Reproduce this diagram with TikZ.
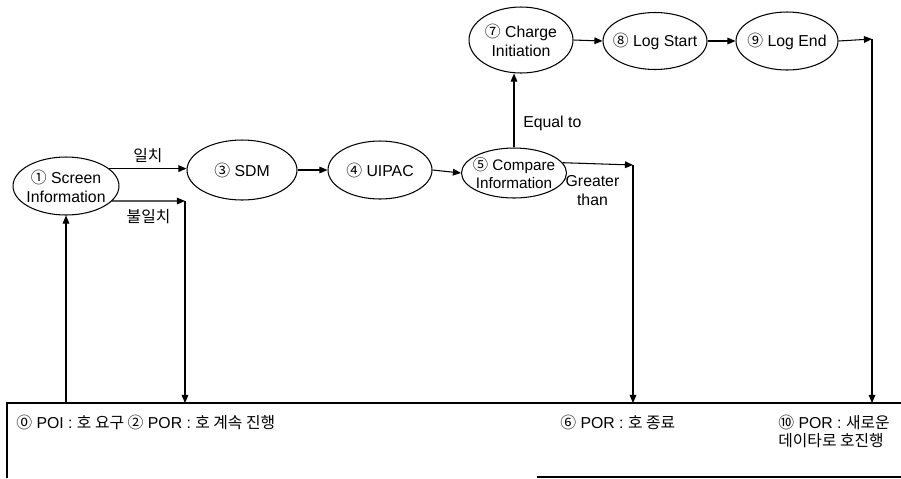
\documentclass[tikz,border=0pt]{standalone}
\usepackage{fontspec}
\setmainfont{Liberation Sans}
\newfontfamily\kr{Noto Sans CJK KR}
\usetikzlibrary{positioning, arrows.meta, shapes.geometric}
\tikzset{
  oval/.style = {ellipse, draw=black, line width=0.6pt, inner xsep=-10pt, inner ysep=-4pt,
                 align=center, font=\fontsize{9}{10.8}\selectfont},
  boks/.style = {draw=black, line width=0.6pt}
}

\begin{document}
\begin{tikzpicture}[
    x=0.02cm, y=-0.02cm,
    pil/.style={draw=black, line width=0.6pt, -{Triangle[length=4.6pt,width=3.8pt]}},
    merke/.style={inner sep=0pt, align=center, font=\fontsize{9}{10.5}\selectfont}
    ]
\useasboundingbox (0,0) rectangle (901,478);

% ellipses, lower row
\node[oval, minimum width=2.12cm, minimum height=1.16cm] (scr) at (66,186) {{\kr ①} Screen\\Information};
\node[oval, minimum width=2.20cm, minimum height=1.20cm] (sdm) at (242,170) {{\kr ③} SDM};
\node[oval, minimum width=2.08cm, minimum height=1.16cm] (uip) at (380,170) {{\kr ④} UIPAC};
\node[oval, minimum width=2.10cm, minimum height=1.00cm, font=\fontsize{8.7}{9.8}\selectfont]
    (cmp) at (514,173) {{\kr ⑤} Compare\\Information};
% ellipses, upper row
\node[oval, minimum width=2.08cm, minimum height=1.32cm] (chg) at (521,40) {{\kr ⑦} Charge\\Initiation};
\node[oval, minimum width=2.08cm, minimum height=1.14cm] (lgs) at (655,41) {{\kr ⑧} Log Start};
\node[oval, minimum width=2.04cm, minimum height=1.16cm] (lge) at (787,41) {{\kr ⑨} Log End};

% box at the bottom
\coordinate (tv) at (7,403);
\coordinate (th) at (901,403);
\coordinate (bv) at (537,477);
\coordinate (bh) at (901,477);
\draw[boks] (th) -- (tv) -- (7,478);
\draw[boks] (bv) -- (bh);

\node[merke, anchor=west] (t0) at (16,422)
    {{\kr ⓪} POI : {\kr 호 요구 ②} POR : {\kr 호 계속 진행}};
\node[merke, anchor=west] (t6) at (560,422) {{\kr ⑥} POR : {\kr 호 종료}};
\node[merke, anchor=north west, align=left, font=\fontsize{9}{10}\selectfont] (t10) at (778,415)
    {{\kr ⑩} POR : {\kr 새로운}\\{\kr 데이타로 호진행}};

% connectors
\coordinate (k1) at (185,201);
\coordinate (k2) at (633,165);
\coordinate (k3) at (872,39);

\draw[pil] (scr.south |- tv) -- (scr.south);
\draw[pil] (scr.22) -- (scr.22 -| sdm.west)
    node[merke, midway, above=3pt] {\kr 일치};
\draw[pil] (scr.-18) -- (k1)
    node[merke, midway, below=4.5pt] {\kr 불일치};
\draw[pil] (k1) -- (k1 |- tv);
\draw[pil] (sdm.east) -- (uip.west);
\draw[pil] (uip.east) -- (cmp.west);
\draw[pil] (cmp.north) -- (cmp.north |- chg.south)
    node[merke, pos=0.33, right=5pt] {Equal to};
\draw[pil] (cmp.12) -- (k2)
    node[merke, midway, below=6.5pt, xshift=-3pt] {Greater\\than};
\draw[pil] (k2) -- (k2 |- tv);
\draw[pil] (chg.east) -- (lgs.west);
\draw[pil] (lgs.east) -- (lge.west);
\draw[pil] (lge.east) -- (k3);
\draw[pil] (k3) -- (k3 |- tv);
\end{tikzpicture}
\end{document}
